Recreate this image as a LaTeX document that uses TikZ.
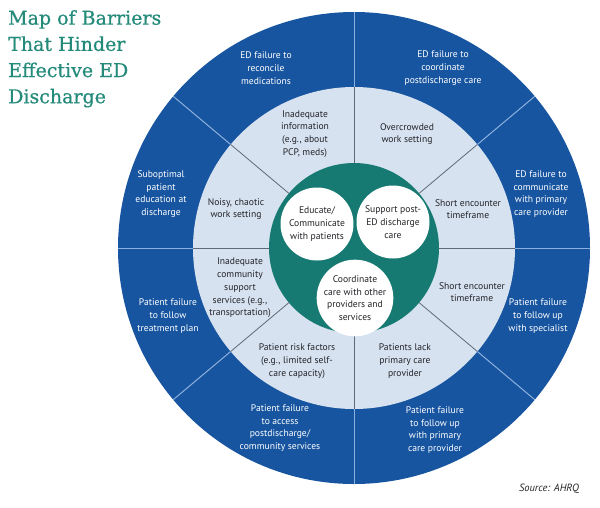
\documentclass[tikz,border=0pt]{standalone}
\usepackage{fontspec}
\setmainfont{PT Sans}
\newfontfamily\titrefont[FakeBold=0.6]{DejaVu Serif}
\definecolor{fonce}{RGB}{24,85,160}
\definecolor{clair}{RGB}{214,226,240}
\definecolor{sarcelle}{RGB}{22,122,114}
\definecolor{titrecol}{RGB}{36,138,122}
\definecolor{trait}{RGB}{95,105,120}
\definecolor{traitclair}{RGB}{140,176,222}
\definecolor{texte}{RGB}{35,35,40}
\tikzset{
  externe/.style={text=white, align=center, inner sep=0pt, font=\fontsize{9.6}{12.7}\selectfont},
  interne/.style={text=texte, align=center, inner sep=0pt, font=\fontsize{9.6}{12.7}\selectfont},
  bulle/.style={circle, fill=white, minimum size=73pt, inner sep=0pt, text=texte, align=center,
    font=\fontsize{9.6}{12.7}\selectfont},
}
\begin{document}
\begin{tikzpicture}[x=1pt,y=-1pt]  % ------ Carte des obstacles a la sortie des urgences --------
\useasboundingbox (0,0) rectangle (600,507);
    \coordinate (O) at (354,248);   % centre des disques
    \fill[fonce] (O) circle (236pt);
    \fill[clair] (O) circle (161pt);
    \fill[sarcelle] (O) circle (85pt);
    \foreach \a in {0,40,90,140,180,220,270,320} {
      \draw[traitclair, line width=1pt] (O) ++(\a:161pt) -- ++(\a:75pt);
      \draw[trait, line width=0.8pt] (O) ++(\a:85pt) -- ++(\a:76pt);
    }
    % titre
    \node[anchor=north west, inner sep=0pt, align=left, text=titrecol,
      font=\titrefont\fontsize{19}{26.2}\selectfont] (titre) at (8,10)
      {Map of Barriers\\That Hinder\\Effective ED\\Discharge};
    % couronne exterieure
    \node[externe] (reconcile) at (266,68) {ED failure to\\reconcile\\medications};
    \node[externe] (coordonner) at (443,68) {ED failure to\\coordinate\\postdischarge care};
    \node[externe] (communiquer) at (541,194) {ED failure to\\communicate\\with primary\\care provider};
    \node[externe] (education) at (161,194) {Suboptimal\\patient\\education at\\discharge};
    \node[externe] (traitement) at (168,316) {Patient failure\\to follow\\treatment plan};
    \node[externe] (specialiste) at (538,316) {Patient failure\\to follow up\\with specialist};
    \node[externe] (acces) at (280,428) {Patient failure\\to access\\postdischarge/\\community services};
    \node[externe] (suivi) at (435,430) {Patient failure\\to follow up\\with primary\\care provider};
    % couronne interieure
    \node[interne] (information) at (305,134) {Inadequate\\information\\(e.g., about\\PCP, meds)};
    \node[interne] (encombre) at (407,134) {Overcrowded\\work setting};
    \node[interne] (bruyant) at (236,209) {Noisy, chaotic\\work setting};
    \node[interne] (courtA) at (468,209) {Short encounter\\timeframe};
    \node[interne] (communaute) at (240,288) {Inadequate\\community\\support\\services (e.g.,\\transportation)};
    \node[interne] (courtB) at (472,292) {Short encounter\\timeframe};
    \node[interne] (risque) at (297,361) {Patient risk factors\\(e.g., limited self-\\care capacity)};
    \node[interne] (medecin) at (405,361) {Patients lack\\primary care\\provider};
    % bulles du centre
    \node[bulle] (eduquer) at (317,224) {Educate/\\Communicate\\with patients};
    \node[bulle] (soutenir) at (393,222) {Support post-\\ED discharge\\care};
    \node[bulle] (coordination) at (355,298) {Coordinate\\care with other\\providers and\\services};
    \node[text=texte, font=\itshape\fontsize{10.5}{12}\selectfont, inner sep=0pt] (source) at (549,489) {Source: AHRQ};
\end{tikzpicture}
\end{document}
